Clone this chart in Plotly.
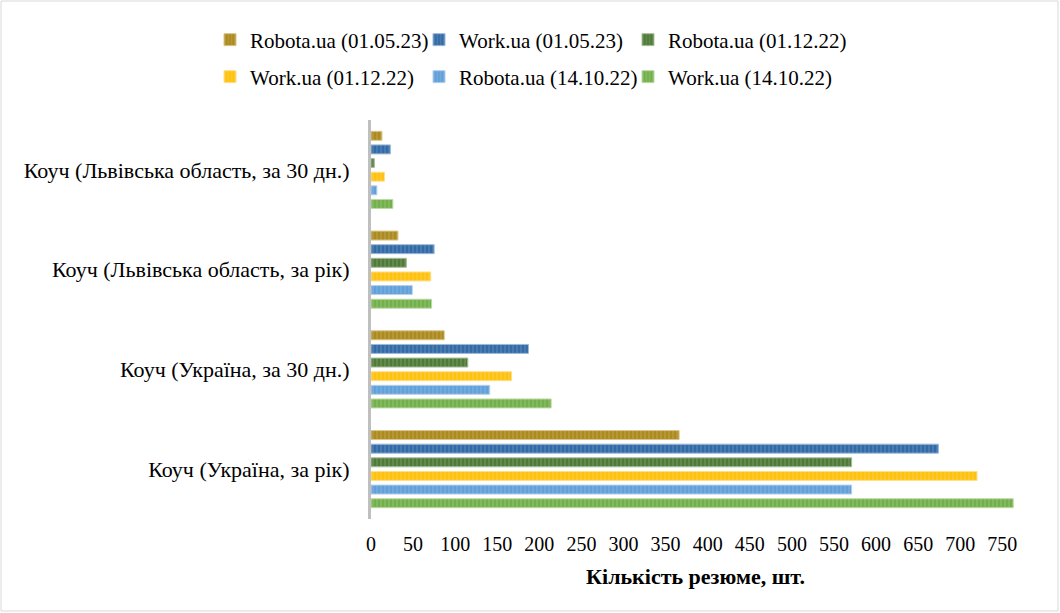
import plotly.graph_objects as go

# Categories, top to bottom
categories = [
    "Коуч (Львівська область, за 30 дн.)",
    "Коуч (Львівська область, за рік)",
    "Коуч (Україна, за 30 дн.)",
    "Коуч (Україна, за рік)",
]

# Series (values per category, same order as categories)
robota_010523 = [13, 32, 87, 366]
work_010523 = [23, 75, 187, 674]
robota_011222 = [4, 42, 115, 571]
work_011222 = [16, 71, 167, 720]
robota_141022 = [7, 49, 141, 571]
work_141022 = [26, 72, 214, 763]

series_names = [
    "Robota.ua (01.05.23)",
    "Work.ua (01.05.23)",
    "Robota.ua (01.12.22)",
    "Work.ua (01.12.22)",
    "Robota.ua (14.10.22)",
    "Work.ua (14.10.22)",
]
series_values = [robota_010523, work_010523, robota_011222,
                 work_011222, robota_141022, work_141022]
colors = ["#AD8A1E", "#336BA6", "#4F7A38", "#FFC10F", "#62A0DA", "#73B04B"]
edge_colors = ["#D9C58A", "#9DB9D8", "#A9BF9B", "#FFE08A", "#B6D0EC", "#BDDAA8"]
legends = ["legend", "legend", "legend", "legend2", "legend2", "legend2"]
legend_widths = [164, 164, 180, 164, 164, 180]

x_ticks = list(range(0, 751, 50))

W, H = 1060, 613
ML, MR, MT, MB = 371, 40, 120, 94
PW, PH = W - ML - MR, H - MT - MB

FONT = "Liberation Serif, Times New Roman, serif"

fig = go.Figure()
for name, vals, col, ecol, lg, lw in zip(series_names, series_values, colors,
                                          edge_colors, legends, legend_widths):
    fig.add_trace(go.Bar(
        y=categories, x=vals, name=name, orientation="h",
        legend=lg, legendwidth=lw,
        marker=dict(
            color=col,
            line=dict(color=ecol, width=1),
            pattern=dict(shape="|", fillmode="overlay", fgcolor="white",
                         fgopacity=0.22, size=4, solidity=0.25),
        ),
    ))

legend_common = dict(
    orientation="h", xref="container", yref="container",
    xanchor="left", yanchor="middle", entrywidthmode="pixels",
    traceorder="normal", font=dict(family=FONT, size=21, color="#000000"),
    bgcolor="rgba(0,0,0,0)", itemclick=False,
)

fig.update_layout(
    width=W, height=H,
    margin=dict(l=ML, r=MR, t=MT, b=MB, pad=0, autoexpand=False),
    paper_bgcolor="white", plot_bgcolor="white",
    font=dict(family=FONT, size=22, color="#000000"),
    barmode="group", bargap=0.18, bargroupgap=0.34,
    showlegend=True,
    xaxis=dict(
        range=[0, 771], tickvals=x_ticks, showgrid=False, zeroline=False,
        showline=False, ticks="", ticklabelstandoff=11, automargin=False,
        tickfont=dict(family=FONT, size=20, color="#000000"),
        title=dict(text="<b>Кількість резюме, шт.</b>", standoff=14,
                   font=dict(family=FONT, size=22, color="#000000")),
    ),
    yaxis=dict(
        autorange="reversed", showgrid=False, zeroline=False,
        showline=True, linecolor="#BFBFBF", linewidth=3, automargin=False,
        ticks="", ticklabelstandoff=14,
        tickfont=dict(family=FONT, size=22, color="#000000"),
    ),
    legend=dict(legend_common, x=210 / W, y=1 - 40 / H),
    legend2=dict(legend_common, x=210 / W, y=1 - 77 / H),
    shapes=[dict(
        type="rect", xref="paper", yref="paper",
        x0=(1 - ML) / PW, x1=(W - 2 - ML) / PW,
        y0=-(H - 2 - MT - PH) / PH, y1=1 + (MT - 1) / PH,
        line=dict(color="#D9D9D9", width=1), fillcolor="rgba(0,0,0,0)",
        layer="below",
    )],
)

fig.write_html(
    "out.html",
    config={"displayModeBar": False},
    post_script="document.body.style.margin='0';document.body.style.padding='0';",
)
